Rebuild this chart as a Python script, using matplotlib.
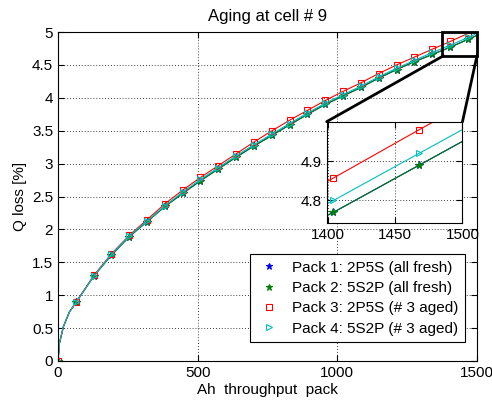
import matplotlib
matplotlib.use("Agg")
import matplotlib.pyplot as plt
from matplotlib.lines import Line2D
from matplotlib.patches import Rectangle, ConnectionPatch

plt.rcParams['font.family'] = ['Liberation Sans', 'DejaVu Sans']
plt.rcParams['font.size'] = 11

# marker positions (Ah throughput pack)
ah_mark = [0, 64, 128, 191, 255, 319, 383, 447, 510, 574, 638, 702,
           766, 829, 893, 957, 1021, 1085, 1148, 1212, 1276, 1340, 1404, 1468]
# extra points on the steep start of the curves and the end of the lines
ah_early = [5, 19, 40]
q_early = [0.27, 0.52, 0.74]
ah_end = 1500

q_pack1 = [0, 0.89, 1.29, 1.61, 1.89, 2.12, 2.35, 2.55, 2.74, 2.92, 3.10, 3.27,
           3.43, 3.59, 3.75, 3.90, 4.03, 4.16, 4.30, 4.43, 4.55, 4.66, 4.77, 4.89]
q_pack2 = [0, 0.89, 1.29, 1.61, 1.89, 2.12, 2.35, 2.55, 2.74, 2.92, 3.10, 3.27,
           3.43, 3.59, 3.75, 3.90, 4.03, 4.16, 4.30, 4.43, 4.55, 4.66, 4.77, 4.89]
q_pack3 = [0, 0.89, 1.30, 1.63, 1.91, 2.15, 2.39, 2.60, 2.79, 2.97, 3.15, 3.33,
           3.50, 3.66, 3.81, 3.96, 4.10, 4.23, 4.37, 4.50, 4.62, 4.74, 4.857, 4.98]
q_pack4 = [0, 0.89, 1.29, 1.62, 1.90, 2.13, 2.36, 2.57, 2.76, 2.94, 3.12, 3.29,
           3.45, 3.61, 3.77, 3.92, 4.05, 4.18, 4.32, 4.45, 4.57, 4.69, 4.80, 4.92]
q_end = [4.95, 4.95, 5.04, 4.98]

labels = ['Pack 1: 2P5S (all fresh)', 'Pack 2: 5S2P (all fresh)',
          'Pack 3: 2P5S (# 3 aged)', 'Pack 4: 5S2P (# 3 aged)']
colors = ['#0000ff', '#008000', '#ff0000', '#00bfbf']
markers = ['*', '*', 's', '>']
msizes = [5.5, 5.5, 5, 4.5]
fills = ['#0000ff', '#008000', 'none', 'none']
series = [q_pack1, q_pack2, q_pack3, q_pack4]

fig = plt.figure(figsize=(4.92, 4.01), dpi=100)
ax = fig.add_axes([0.118, 0.0998, 0.8515, 0.8202])
ins = fig.add_axes([0.664, 0.444, 0.276, 0.2526])


def draw(a):
    for q, qe, c, m, ms, fc in zip(series, q_end, colors, markers, msizes, fills):
        x = [0] + ah_early + ah_mark[1:] + [ah_end]
        y = [0] + q_early + q[1:] + [qe]
        idx = [0] + list(range(len(ah_early) + 1, len(x) - 1))
        a.plot(x, y, color=c, lw=0.8, marker=m, ms=ms, mfc=fc, mec=c,
               mew=0.8, markevery=idx)


def style(a):
    a.grid(True, linestyle=(0, (1, 2.5)), color='k', linewidth=0.6)
    a.tick_params(direction='in', top=True, right=True, length=4, labelsize=11)
    for s in a.spines.values():
        s.set_linewidth(0.8)


draw(ax)
style(ax)
ax.set_xlim(0, 1500)
ax.set_ylim(0, 5)
ax.set_xticks([0, 500, 1000, 1500])
ax.set_yticks([0, 0.5, 1, 1.5, 2, 2.5, 3, 3.5, 4, 4.5, 5])
ax.set_yticklabels(['0', '0.5', '1', '1.5', '2', '2.5', '3', '3.5', '4', '4.5', '5'])
ax.set_xlabel('Ah  throughput  pack', fontsize=11, labelpad=2)
ax.set_ylabel('Q loss [%]', fontsize=11)
ax.set_title('Aging at cell # 9', fontsize=12, pad=8)

handles = [Line2D([], [], ls='none', color=c, marker=m, ms=ms - 0.5, mfc=fc,
                  mec=c, mew=0.8)
           for c, m, ms, fc in zip(colors, markers, msizes, fills)]
leg = ax.legend(handles, labels, loc='lower right', bbox_to_anchor=(0.971, 0.058),
                fontsize=11, frameon=True, fancybox=False, framealpha=1,
                edgecolor='k', handlelength=1.8, borderpad=0.4,
                labelspacing=0.42, handletextpad=0.6, borderaxespad=0)
leg.get_frame().set_linewidth(0.8)

draw(ins)
style(ins)
ins.set_xlim(1399, 1500)
ins.set_ylim(4.743, 5.0)
ins.set_xticks([1400, 1450, 1500])
ins.set_yticks([4.8, 4.9])

# zoom rectangle and connectors
ax.add_patch(Rectangle((1374, 4.64), 126, 0.36, fill=False, ec='k', lw=2,
                       clip_on=False, zorder=5))
for xa, xb in [(1380, 0), (1500, 1)]:
    con = ConnectionPatch(xyA=(xa, 4.64), coordsA=ax.transData,
                          xyB=(xb, 1), coordsB=ins.transAxes,
                          color='k', lw=2)
    fig.add_artist(con)

fig.savefig('out.png', dpi=100)
